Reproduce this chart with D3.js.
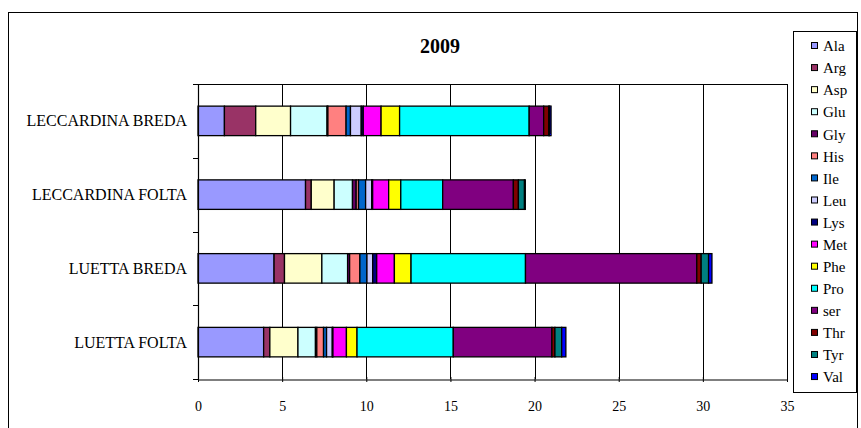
<!DOCTYPE html>
<html>
<head>
<meta charset="utf-8">
<script src="https://cdn.jsdelivr.net/npm/d3@7"></script>
<style>
  html, body { margin: 0; padding: 0; background: #fff; }
  svg { display: block; }
  svg text { font-family: "Liberation Serif", "Times New Roman", serif; fill: #000; }
</style>
</head>
<body>
<svg id="chart" width="861" height="428"></svg>
<script>
// Samples, top to bottom
const categories = ["LECCARDINA BREDA", "LECCARDINA FOLTA", "LUETTA BREDA", "LUETTA FOLTA"];

// Amino acids, in stacking order
const aminoAcids = ["Ala", "Arg", "Asp", "Glu", "Gly", "His", "Ile", "Leu", "Lys", "Met", "Phe", "Pro", "ser", "Thr", "Tyr", "Val"];

// One value per amino acid for each sample
const leccardinaBreda = [1.57, 1.86, 2.07, 2.17, 0.05, 1.08, 0.26, 0.64, 0.12, 1.06, 1.10, 7.70, 0.86, 0.30, 0.06, 0.08];
const leccardinaFolta = [6.39, 0.34, 1.36, 1.09, 0.22, 0.14, 0.42, 0.36, 0.06, 0.95, 0.72, 2.49, 4.20, 0.30, 0.36, 0.05];
const luettaBreda     = [4.52, 0.62, 2.22, 1.53, 0.12, 0.61, 0.42, 0.34, 0.24, 1.05, 0.99, 6.80, 10.18, 0.26, 0.44, 0.20];
const luettaFolta     = [3.90, 0.37, 1.67, 1.04, 0.08, 0.40, 0.18, 0.34, 0.04, 0.80, 0.63, 5.72, 5.86, 0.18, 0.40, 0.25];

const sampleValues = [leccardinaBreda, leccardinaFolta, luettaBreda, luettaFolta];

const xTicks = [0, 5, 10, 15, 20, 25, 30, 35];

const colors = ["#9999FF", "#993366", "#FFFFCC", "#CCFFFF", "#660066", "#FF8080", "#0066CC", "#CCCCFF",
                "#000080", "#FF00FF", "#FFFF00", "#00FFFF", "#800080", "#800000", "#008080", "#0000FF"];

const svg = d3.select("#chart");

// outer chart frame
svg.append("rect")
  .attr("x", 8.5).attr("y", 12.5).attr("width", 849).attr("height", 440)
  .attr("fill", "#fff").attr("stroke", "#000").attr("stroke-width", 1);

const plot = { left: 198, right: 787, top: 84, bottom: 379 };

const x = d3.scaleLinear().domain([0, 35]).range([plot.left, plot.right]);
const y = d3.scaleBand().domain(categories).range([plot.top, plot.bottom]).paddingInner(0.6).paddingOuter(0.3);

// title
svg.append("text")
  .attr("x", 440).attr("y", 53)
  .attr("text-anchor", "middle")
  .attr("font-size", 20).attr("font-weight", "bold")
  .text("2009");

// vertical gridlines
svg.append("g")
  .selectAll("line")
  .data(xTicks.slice(1))
  .join("line")
  .attr("x1", d => Math.round(x(d)) + 0.5).attr("x2", d => Math.round(x(d)) + 0.5)
  .attr("y1", plot.top).attr("y2", plot.bottom)
  .attr("stroke", "#000").attr("stroke-width", 1);

// top edge of plot area
svg.append("line")
  .attr("x1", plot.left).attr("x2", plot.right)
  .attr("y1", plot.top + 0.5).attr("y2", plot.top + 0.5)
  .attr("stroke", "#000");

// stacked bars
const table = categories.map((c, i) => {
  const row = { category: c };
  aminoAcids.forEach((a, j) => { row[a] = sampleValues[i][j]; });
  return row;
});
const stacked = d3.stack().keys(aminoAcids)(table);

svg.append("g")
  .selectAll("g")
  .data(stacked)
  .join("g")
  .attr("fill", (d, i) => colors[i])
  .selectAll("rect")
  .data(d => d)
  .join("rect")
  .attr("x", d => x(d[0]))
  .attr("y", d => y(d.data.category))
  .attr("width", d => x(d[1]) - x(d[0]))
  .attr("height", y.bandwidth())
  .attr("stroke", "#000").attr("stroke-width", 1.3);

// x axis
const xAxis = svg.append("g")
  .attr("transform", `translate(0,${plot.bottom + 0.5})`)
  .call(d3.axisBottom(x).tickValues(xTicks).tickSize(5).tickSizeOuter(0).tickPadding(17));
xAxis.attr("font-family", null).attr("font-size", null);
xAxis.select(".domain").attr("stroke", "#000").attr("stroke-width", 1.2);
xAxis.selectAll(".tick line").attr("transform", "translate(0,-2.5)").attr("stroke", "#000");
xAxis.selectAll("text").attr("font-size", 14).attr("fill", "#000");

// y axis with ticks at category boundaries
const boundaries = d3.range(categories.length + 1).map(i => plot.top + i * (plot.bottom - plot.top) / categories.length);
svg.append("line")
  .attr("x1", plot.left + 0.5).attr("x2", plot.left + 0.5)
  .attr("y1", plot.top).attr("y2", plot.bottom)
  .attr("stroke", "#000").attr("stroke-width", 1.2);
svg.append("g")
  .selectAll("line")
  .data(boundaries)
  .join("line")
  .attr("x1", plot.left - 5).attr("x2", plot.left)
  .attr("y1", d => Math.round(d) + 0.5).attr("y2", d => Math.round(d) + 0.5)
  .attr("stroke", "#000");

svg.append("g")
  .selectAll("text")
  .data(categories)
  .join("text")
  .attr("x", 187)
  .attr("y", d => y(d) + y.bandwidth() / 2)
  .attr("dy", "0.35em")
  .attr("text-anchor", "end")
  .attr("font-size", 16)
  .text(d => d);

// legend
const legend = svg.append("g");
legend.append("rect")
  .attr("x", 793.5).attr("y", 31.5).attr("width", 63).attr("height", 361)
  .attr("fill", "#fff").attr("stroke", "#000");
const item = legend.selectAll("g.item")
  .data(aminoAcids)
  .join("g")
  .attr("class", "item")
  .attr("transform", (d, i) => `translate(0,${46 + i * 22.07})`);
item.append("rect")
  .attr("x", 811.5).attr("y", -3.5).attr("width", 6).attr("height", 6)
  .attr("fill", (d, i) => colors[i]).attr("stroke", "#000");
item.append("text")
  .attr("x", 823).attr("y", 0).attr("dy", "0.35em")
  .attr("font-size", 15)
  .text(d => d);
</script>
</body>
</html>
